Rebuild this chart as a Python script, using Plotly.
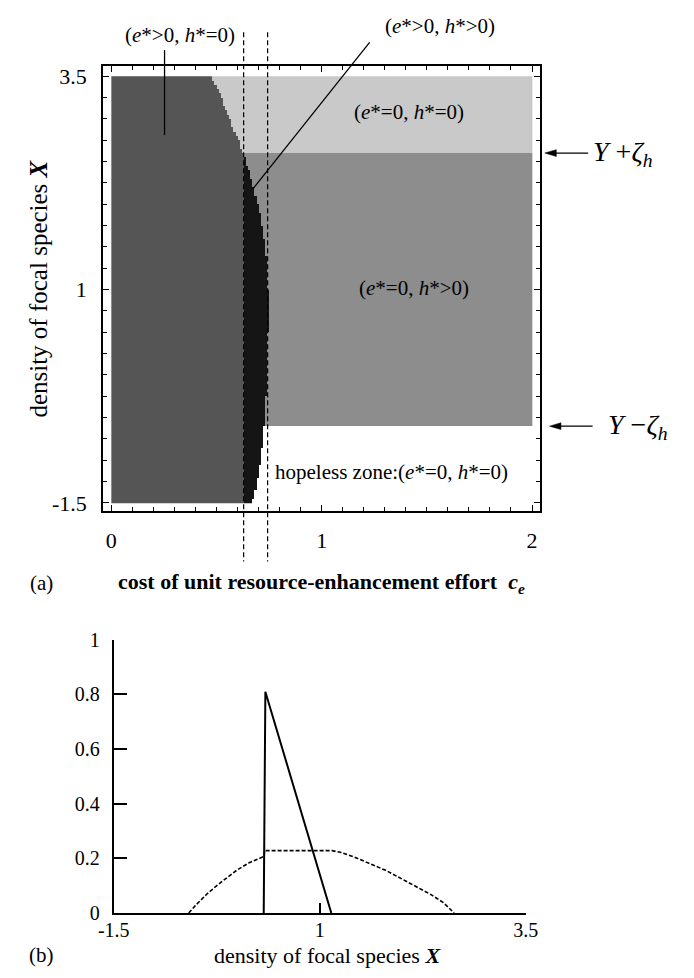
import numpy as np
import plotly.graph_objects as go

FONT = "Liberation Serif, Times New Roman, DejaVu Serif, serif"

# ---------------- Panel (a): region boundaries ----------------
# upper boundary of (e*>0,h*=0) region above Y+zeta_h  (density X -> cost c_e)
top_bnd_X = [2.6, 2.8, 3.0, 3.2, 3.4, 3.5]
top_bnd_ce = [0.627, 0.595, 0.563, 0.530, 0.497, 0.481]
# right edge of the black (e*>0,h*>0) region
black_X = [-1.5, -1.3, -1.1, -0.9, -0.7, -0.5, -0.3, -0.1, 0.1, 0.5, 1.0, 1.25, 1.4, 1.6, 1.8, 2.0, 2.2, 2.4, 2.6]
black_ce = [0.670, 0.688, 0.702, 0.712, 0.720, 0.728, 0.734, 0.740, 0.744, 0.745, 0.745, 0.743, 0.736,
            0.725, 0.712, 0.695, 0.676, 0.655, 0.627]
black_left_ce = 0.628
Y_plus = 2.6      # Y + zeta_h
Y_minus = -0.6    # Y - zeta_h
dash_ce = [0.629, 0.743]

ce_cells = np.arange(0.005, 2.0, 0.01)
X_cells = np.arange(-1.475, 3.5, 0.05)

# region codes: 0 hopeless(white) 1 light 2 medium 3 dark 4 black
z = np.zeros((len(X_cells), len(ce_cells)))
for i, Xv in enumerate(X_cells):
    for j, cv in enumerate(ce_cells):
        if Xv > Y_plus:
            b = np.interp(Xv, top_bnd_X, top_bnd_ce)
            z[i, j] = 3 if cv < b else 1
        else:
            if cv < black_left_ce:
                z[i, j] = 3
            elif cv < np.interp(Xv, black_X, black_ce):
                z[i, j] = 4
            elif Xv > Y_minus:
                z[i, j] = 2
            else:
                z[i, j] = 0

WHITE, LIGHT, MED, DARK, BLACK = "#ffffff", "#c9c9c9", "#8d8d8d", "#555555", "#151515"
cs = [[0, WHITE], [0.125, WHITE], [0.125, LIGHT], [0.375, LIGHT], [0.375, MED], [0.625, MED],
      [0.625, DARK], [0.875, DARK], [0.875, BLACK], [1, BLACK]]

# ---------------- Panel (b) ----------------
solid_X = [0.32, 0.34, 1.14]
solid_v = [0.0, 0.81, 0.0]
dashed_X = [-0.59, -0.5, -0.36, -0.2, 0.0, 0.15, 0.325, 0.33, 1.15, 1.25, 1.4, 1.6, 1.8, 2.0, 2.2, 2.35, 2.5, 2.63]
dashed_v = [0.0, 0.03, 0.072, 0.112, 0.158, 0.185, 0.207, 0.228, 0.228, 0.222, 0.207, 0.182, 0.156, 0.124,
            0.092, 0.067, 0.038, 0.0]

W, H = 694, 978
xdomA = [91 / W, 547 / W]
ydomA = [1 - 511.7 / H, 1 - 56.7 / H]
xrngA = [-0.0387, 2.0387]
yrngA = [-1.596, 3.615]
xdomB = [102 / W, 532 / W]
ydomB = [1 - 922.7 / H, 1 - 643.3 / H]


def pxA(v):
    return xdomA[0] + (v - xrngA[0]) / (xrngA[1] - xrngA[0]) * (xdomA[1] - xdomA[0])


def pyA(v):
    return ydomA[0] + (v - yrngA[0]) / (yrngA[1] - yrngA[0]) * (ydomA[1] - ydomA[0])


fig = go.Figure()
fig.add_trace(go.Heatmap(z=z, x0=0.005, dx=0.01, y0=-1.475, dy=0.05, colorscale=cs, zmin=0, zmax=4,
                         showscale=False, hoverinfo="skip", xaxis="x", yaxis="y"))
fig.add_trace(go.Scatter(x=dashed_X, y=dashed_v, mode="lines", line=dict(color="black", width=1.6, dash="4px,2px"),
                         xaxis="x2", yaxis="y2", cliponaxis=False, showlegend=False))
fig.add_trace(go.Scatter(x=solid_X, y=solid_v, mode="lines", line=dict(color="black", width=2),
                         xaxis="x2", yaxis="y2", cliponaxis=False, showlegend=False))

shapes = []
for c in dash_ce:
    shapes.append(dict(type="line", xref="paper", yref="paper", x0=pxA(c), x1=pxA(c), y0=pyA(4.015), y1=pyA(-2.185),
                       line=dict(color="black", width=1.2, dash="5px,3px")))
# pointer lines
shapes.append(dict(type="line", xref="paper", yref="paper", x0=pxA(0.253), x1=pxA(0.253), y0=pyA(3.806), y1=pyA(2.81),
                   line=dict(color="black", width=1.3)))
shapes.append(dict(type="line", xref="paper", yref="paper", x0=pxA(1.228), x1=pxA(0.672), y0=pyA(3.897), y1=pyA(2.177),
                   line=dict(color="black", width=1.3)))
# arrows pointing at Y +/- zeta_h
for yv, head, tail in [(Y_plus, 2.061, 2.267), (Y_minus, 2.083, 2.288)]:
    hx, tx, yy = pxA(head), pxA(tail), pyA(yv)
    shapes.append(dict(type="line", xref="paper", yref="paper", x0=hx + 10 / W, x1=tx, y0=yy, y1=yy,
                       line=dict(color="black", width=1.3)))
    shapes.append(dict(type="path", xref="paper", yref="paper",
                       path=f"M {hx},{yy} L {hx + 12 / W},{yy + 3.5 / H} L {hx + 12 / W},{yy - 3.5 / H} Z",
                       fillcolor="black", line=dict(color="black", width=0.5)))

ann = []


def txt(x, y, s, size=17, xanchor="center", **kw):
    ann.append(dict(x=x, y=y, xref="paper", yref="paper", text=s, showarrow=False, xanchor=xanchor, yanchor="middle",
                    font=dict(family=FONT, size=size, color="black"), **kw))


P = lambda px: px / W
Q = lambda py: 1 - py / H

LBL = 21
txt(P(171), Q(25), "(<i>e</i>*>0, <i>h</i>*=0)", size=LBL)
txt(P(442), Q(15), "(<i>e</i>*>0, <i>h</i>*>0)", size=LBL)
txt(P(410), Q(103), "(<i>e</i>*=0, <i>h</i>*=0)", size=LBL)
txt(P(415), Q(283), "(<i>e</i>*=0, <i>h</i>*>0)", size=LBL)
txt(P(392), Q(472), "hopeless zone:(<i>e</i>*=0, <i>h</i>*=0)", size=LBL)
txt(P(27), Q(585), "(a)", size=21)
txt(P(319), Q(585), "<b>cost of unit resource-enhancement effort  <i>c<sub>e</sub></i></b>", size=22)
txt(P(24), Q(284), "density of focal species <b><i>X</i></b>", size=25, textangle=-90)
txt(P(27), Q(966), "(b)", size=21)
txt(P(325), Q(966), "density of focal species <b><i>X</i></b>", size=22, borderpad=0)
txt(pxA(2.28), pyA(Y_plus), "<i>Y</i> +<i>ζ<sub>h</sub></i>", size=28, xanchor="left")
txt(pxA(2.35), pyA(Y_minus), "<i>Y</i> −<i>ζ<sub>h</sub></i>", size=28, xanchor="left")

tickfont = dict(family=FONT, size=22, color="black")
tickfontB = dict(family=FONT, size=20, color="black")
axA = dict(showline=True, mirror="allticks", linecolor="black", linewidth=2, ticks="inside", tickwidth=1.3,
           ticklen=6, tickcolor="black", showgrid=False, zeroline=False, tickfont=tickfont)

fig.update_layout(
    width=W, height=H, margin=dict(l=0, r=0, t=0, b=0), paper_bgcolor="white", plot_bgcolor="white",
    showlegend=False,
    xaxis=dict(domain=xdomA, range=xrngA, anchor="y", tickvals=[0, 1, 2], ticktext=["0", "1", "2"],
               minor=dict(dtick=0.1, tick0=0, ticks="inside", ticklen=4, tickcolor="black", tickwidth=1.2),
               ticklabelstandoff=8, **axA),
    yaxis=dict(domain=ydomA, range=yrngA, anchor="x", tickvals=[-1.5, 1, 3.5], ticktext=["-1.5", "1", "3.5"],
               minor=dict(dtick=0.25, tick0=-1.5, ticks="inside", ticklen=4, tickcolor="black", tickwidth=1.2),
               ticklabelstandoff=10, **axA),
    xaxis2=dict(domain=xdomB, range=[-1.5, 3.5], anchor="y2", showline=True, linecolor="black", linewidth=2,
                ticks="inside", ticklen=10, tickwidth=1.5, tickcolor="black", tickvals=[-1.5, 1, 3.5],
                ticktext=["-1.5", "1", "3.5"], showgrid=False, zeroline=False, tickfont=tickfontB,
                ticklabelstandoff=-2),
    yaxis2=dict(domain=ydomB, range=[0, 1], anchor="x2", showline=True, linecolor="black", linewidth=2,
                ticks="inside", ticklen=13, tickwidth=1.5, tickcolor="black",
                tickvals=[0, 0.2, 0.4, 0.6, 0.8, 1], ticktext=["0", "0.2", "0.4", "0.6", "0.8", "1"],
                showgrid=False, zeroline=False, tickfont=tickfontB, ticklabelstandoff=8),
    shapes=shapes, annotations=ann,
)

fig.write_html("out.html", config={"displayModeBar": False},
               post_script="document.body.style.margin='0px';document.body.style.overflow='hidden';")
